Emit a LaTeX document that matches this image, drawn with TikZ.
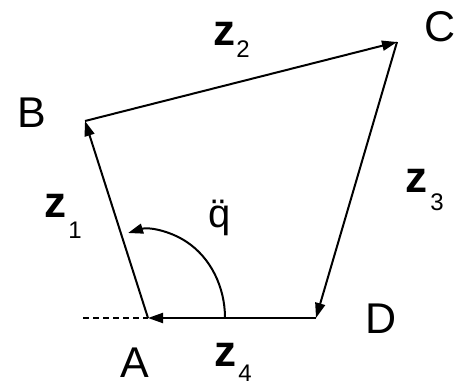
\documentclass[tikz,border=0pt]{standalone}
\usepackage{fontspec}
\setmainfont{Liberation Sans}
\usetikzlibrary{arrows.meta}
\begin{document}
\begin{tikzpicture}[x=1pt,y=-1pt,
  vec/.style={line width=2pt,-{Triangle[length=15pt,width=10pt]}},
  lbl/.style={inner sep=0pt,anchor=base,font=\fontsize{43}{45}\selectfont},
  zl/.style={inner sep=0pt,anchor=base,font=\fontsize{44}{46}\selectfont\bfseries},
  sub/.style={inner sep=0pt,anchor=base,font=\fontsize{24}{26}\selectfont}]
\useasboundingbox (0,0) rectangle (457,385);
\coordinate (A) at (148,318);
\coordinate (B) at (85,121);
\coordinate (C) at (397,42);
\coordinate (D) at (316,318);
\coordinate (L) at (83,318);
\coordinate (S) at (225,318);
\draw[line width=1.4pt,dash pattern=on 6pt off 4pt] (L) -- (A);
\draw[vec] (A) -- (B);
\draw[vec] (B) -- (C);
\draw[vec] (C) -- (D);
\draw[vec] (D) -- (A);
\draw[vec] (S) arc[start angle=0,end angle=105,x radius=77,y radius=-88];
\node[lbl] (la) at (135,377) {A};
\node[lbl] (lb) at (32,127) {B};
\node[lbl] (lc) at (440,42) {C};
\node[lbl] (ld) at (381,333) {D};
\node[zl] (z1) at (55,217) {z};
\node[sub] (s1) at (75,238) {1};
\node[zl] (z2) at (224,46) {z};
\node[sub] (s2) at (243,58) {2};
\node[zl] (z3) at (416,192) {z};
\node[sub] (s3) at (437,210) {3};
\node[zl] (z4) at (225,366) {z};
\node[sub] (s4) at (245,381) {4};
\node[inner sep=0pt,anchor=base,font=\fontsize{40}{42}\selectfont] (q) at (220,227) {\"q};
\end{tikzpicture}
\end{document}
